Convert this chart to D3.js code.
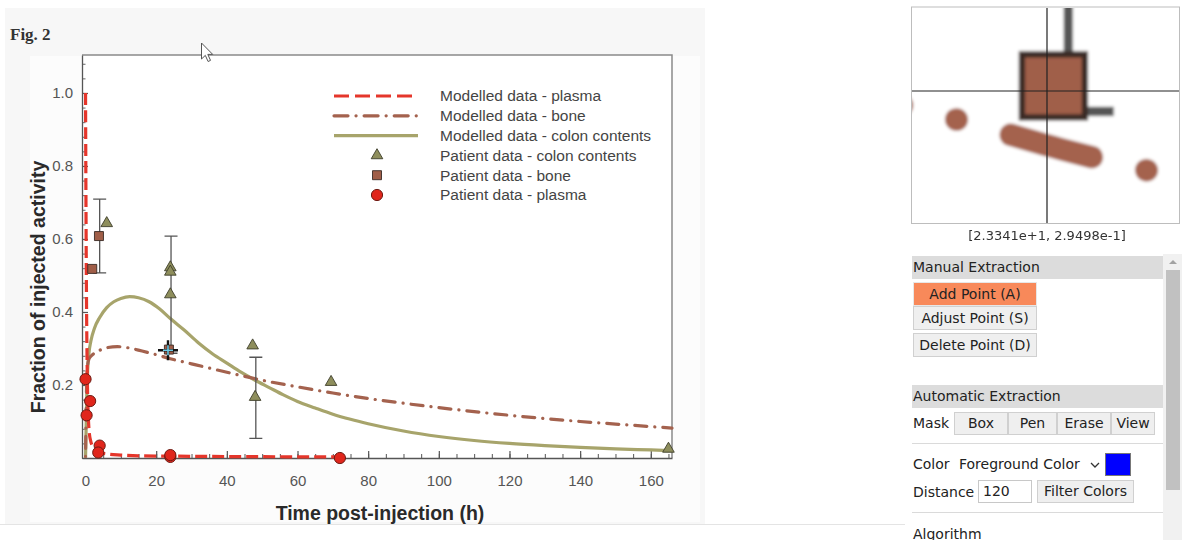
<!DOCTYPE html>
<html>
<head>
<meta charset="utf-8">
<script src="https://cdn.jsdelivr.net/npm/d3@7"></script>
<style>
  body { margin: 0; width: 1182px; height: 540px; overflow: hidden; position: relative; background: #fff; font-family: "DejaVu Sans", Verdana, sans-serif; }
  #chart { position: absolute; left: 0; top: 0; }
  .p { position: absolute; font-size: 14px; color: #222; white-space: nowrap; }
  .hdr { position: absolute; left: 912px; width: 250px; height: 23px; line-height: 23px; background: #dcdcdc; padding-left: 1px; font-size: 14px; color: #222; }
  .btn { position: absolute; box-sizing: border-box; background: #efefef; border: 1px solid #d0d0d0; text-align: center; font-size: 14px; color: #222; }
  .sep { position: absolute; left: 912px; width: 251px; height: 1px; background: #dadada; }
</style>
</head>
<body>
<svg id="chart" width="1182" height="540"></svg>

<div class="hdr" style="top:256px">Manual Extraction</div>
<div class="btn" style="left:913px;top:282px;width:124px;height:24px;line-height:22px;background:#f8895a;border-color:#e7e7e7">Add Point (A)</div>
<div class="btn" style="left:913px;top:306px;width:124px;height:24px;line-height:22px">Adjust Point (S)</div>
<div class="btn" style="left:913px;top:333px;width:124px;height:24px;line-height:22px">Delete Point (D)</div>
<div class="hdr" style="top:385px">Automatic Extraction</div>
<div class="p" style="left:913px;top:415px">Mask</div>
<div class="btn" style="left:954px;top:412px;width:54px;height:23px;line-height:21px">Box</div>
<div class="btn" style="left:1008px;top:412px;width:49px;height:23px;line-height:21px">Pen</div>
<div class="btn" style="left:1057px;top:412px;width:54px;height:23px;line-height:21px">Erase</div>
<div class="btn" style="left:1111px;top:412px;width:44px;height:23px;line-height:21px">View</div>
<div class="sep" style="top:443px"></div>
<div class="p" style="left:913px;top:456px">Color</div>
<div class="p" style="left:959px;top:456px">Foreground Color</div>
<svg style="position:absolute;left:1090px;top:461px" width="10" height="8"><path d="M1,2 L5,6 L9,2" fill="none" stroke="#333" stroke-width="1.3"/></svg>
<div style="position:absolute;left:1105px;top:453px;width:26px;height:23px;background:#0000ff;box-sizing:border-box;border:1px solid #777"></div>
<div class="p" style="left:913px;top:484px">Distance</div>
<div class="btn" style="left:978px;top:480px;width:54px;height:23px;line-height:21px;background:#fff;border-color:#c8c8c8;text-align:left;padding-left:4px">120</div>
<div class="btn" style="left:1037px;top:480px;width:97px;height:23px;line-height:21px">Filter Colors</div>
<div class="sep" style="top:512px"></div>
<div class="p" style="left:913px;top:526px">Algorithm</div>
<div style="position:absolute;left:1163px;top:254px;width:19px;height:286px;background:#f1f1f1"></div>
<div style="position:absolute;left:1166px;top:270px;width:14px;height:220px;background:#c1c1c1"></div>
<svg style="position:absolute;left:1167px;top:258px" width="12" height="8"><path d="M2,6 L6,2 L10,6 Z" fill="#a3a3a3"/></svg>

<script>
// time (h)
const plasmaModelT = [0, 0.1, 0.2, 0.3, 0.45, 0.6, 0.8, 1, 1.5, 2, 3, 4, 6, 10, 15, 25, 40, 72];
const plasmaModelV = [1.0, 0.75, 0.55, 0.4, 0.26, 0.17, 0.11, 0.075, 0.045, 0.032, 0.022, 0.016, 0.011, 0.008, 0.006, 0.005, 0.004, 0.003];

const boneModelT = [0, 0.3, 0.6, 1, 2, 4, 6, 9, 12, 16, 20, 24, 30, 40, 50, 60, 70, 80, 90, 100, 110, 120, 130, 140, 150, 160, 166];
const boneModelV = [0, 0.2, 0.255, 0.272, 0.283, 0.295, 0.302, 0.305, 0.302, 0.293, 0.283, 0.272, 0.258, 0.235, 0.213, 0.195, 0.178, 0.163, 0.15, 0.138, 0.127, 0.117, 0.108, 0.1, 0.093, 0.086, 0.082];

const colonModelT = [0, 0.3, 0.6, 1, 1.5, 2.5, 4, 6, 8, 10, 12.5, 15, 18, 21, 24, 28, 32, 36, 40, 44, 48, 52, 56, 60, 65, 70, 75, 80, 90, 100, 110, 120, 130, 140, 150, 160, 166];
const colonModelV = [0, 0.15, 0.24, 0.29, 0.32, 0.355, 0.385, 0.412, 0.428, 0.437, 0.442, 0.439, 0.428, 0.408, 0.382, 0.35, 0.315, 0.285, 0.26, 0.235, 0.213, 0.193, 0.173, 0.155, 0.137, 0.12, 0.106, 0.094, 0.074, 0.059, 0.048, 0.04, 0.034, 0.029, 0.025, 0.022, 0.02];

const colonPtsT = [6, 24, 24, 24, 47.3, 48, 69.5, 165];
const colonPtsV = [0.643, 0.522, 0.51, 0.448, 0.308, 0.167, 0.208, 0.025];
const bonePtsT = [1.9, 3.8, 23.6];
const bonePtsV = [0.518, 0.608, 0.297];
const plasmaPtsT = [0, 0.3, 1.3, 4, 3.6, 24, 24, 72];
const plasmaPtsV = [0.216, 0.117, 0.156, 0.034, 0.015, 0.003, 0.008, 0.0];

// error bars: time, low, high
const errT = [4, 24.2, 48.2];
const errLo = [0.507, 0.287, 0.054];
const errHi = [0.709, 0.608, 0.276];

const xTicks = [0, 20, 40, 60, 80, 100, 120, 140, 160];
const yTicks = [0.2, 0.4, 0.6, 0.8, 1.0];

const legendLabels = ["Modelled data - plasma", "Modelled data - bone", "Modelled data - colon contents",
  "Patient data - colon contents", "Patient data - bone", "Patient data - plasma"];

const cursorT = 23.341, cursorV = 0.29498;

const RED = "#e5362b", BONE = "#a4624e", COLON = "#a7a46b";
const TRI = "#8e8e5c", SQ = "#a05e48", DOT = "#e0261c";

const svg = d3.select("#chart");
const defs = svg.append("defs");
const blur = defs.append("filter").attr("id", "blur")
  .attr("filterUnits", "userSpaceOnUse").attr("x", 0).attr("y", 0).attr("width", 268).attr("height", 216);
blur.append("feGaussianBlur").attr("stdDeviation", 1.8);

// page background of the figure
svg.append("rect").attr("x", 5).attr("y", 8).attr("width", 700).attr("height", 516).attr("fill", "#f7f7f7");
svg.append("rect").attr("x", 30).attr("y", 56).attr("width", 670).attr("height", 466).attr("fill", "#fcfcfc");
svg.append("line").attr("x1", 0).attr("x2", 905).attr("y1", 524.5).attr("y2", 524.5).attr("stroke", "#e4e4e4");

svg.append("text").attr("x", 10).attr("y", 40)
  .style("font-family", "'Liberation Serif', 'DejaVu Serif', serif").style("font-weight", "bold")
  .style("font-size", "17px").attr("fill", "#333").text("Fig. 2");

const x = d3.scaleLinear().domain([-1, 166]).range([82, 672]);
const y = d3.scaleLinear().domain([0, 1.104]).range([458, 55]);

const art = defs.append("g").attr("id", "plotArt");
art.append("rect").attr("x", 82).attr("y", 55).attr("width", 590).attr("height", 403).attr("fill", "#fff");

// frame
art.append("path").attr("d", `M${x.range()[0]},${y.range()[1]}H${x.range()[1]}V${y.range()[0]}`)
  .attr("fill", "none").attr("stroke", "#8a8a8a").attr("stroke-width", 1.5);

const axisFont = "'Liberation Sans', Arial, sans-serif";

// minor ticks
art.append("g").attr("transform", `translate(${x.range()[0]},0)`)
  .call(d3.axisLeft(y).tickValues(d3.range(0, 1.1, 0.04)).tickSizeInner(-3.5).tickSizeOuter(0).tickFormat(""))
  .call(g => g.select(".domain").remove())
  .call(g => g.selectAll("line").attr("stroke", "#666"));
art.append("g").attr("transform", `translate(0,${y.range()[0]})`)
  .call(d3.axisBottom(x).tickValues(d3.range(0, 166, 5)).tickSizeInner(-4).tickSizeOuter(0).tickFormat(""))
  .call(g => g.select(".domain").remove())
  .call(g => g.selectAll("line").attr("stroke", "#555"));

// major ticks + labels
const yAxis = art.append("g").attr("transform", `translate(${x.range()[0]},0)`)
  .call(d3.axisLeft(y).tickValues(yTicks).tickSizeInner(-6).tickSizeOuter(0).tickPadding(9).tickFormat(d3.format(".1f")));
const xAxis = art.append("g").attr("transform", `translate(0,${y.range()[0]})`)
  .call(d3.axisBottom(x).tickValues(xTicks).tickSizeInner(-7).tickSizeOuter(0).tickPadding(17));
[yAxis, xAxis].forEach(a => {
  a.select(".domain").attr("stroke", "#555").attr("stroke-width", 1.3);
  a.selectAll(".tick line").attr("stroke", "#555").attr("stroke-width", 1.2);
  a.selectAll(".tick text").attr("fill", "#555").style("font-family", axisFont).style("font-size", "15px");
});

// axis titles
svg.append("text").attr("x", 380).attr("y", 520).attr("text-anchor", "middle")
  .style("font-family", axisFont).style("font-weight", "bold").style("font-size", "19.5px").attr("fill", "#2a2a2a")
  .text("Time post-injection (h)");
svg.append("text").attr("transform", "translate(45,287) rotate(-90)").attr("text-anchor", "middle")
  .style("font-family", axisFont).style("font-weight", "bold").style("font-size", "19.5px").attr("fill", "#2a2a2a")
  .text("Fraction of injected activity");

// model curves
const line = d3.line().x(d => x(d[0])).y(d => y(d[1])).curve(d3.curveMonotoneX);
art.append("path").datum(d3.zip(colonModelT, colonModelV)).attr("d", line)
  .attr("fill", "none").attr("stroke", COLON).attr("stroke-width", 3.2);
const bonePath = art.append("path").datum(d3.zip(boneModelT, boneModelV)).attr("d", line)
  .attr("fill", "none").attr("stroke", BONE).attr("stroke-width", 3.2)
  .attr("stroke-linecap", "round").attr("stroke-dasharray", "12,8,0.1,8");
art.append("path").datum(d3.zip(plasmaModelT, plasmaModelV)).attr("d", line)
  .attr("fill", "none").attr("stroke", RED).attr("stroke-width", 3.2).attr("stroke-dasharray", "12,5");

// error bars
const eb = art.append("g").attr("stroke", "#555").attr("stroke-width", 1.3).attr("fill", "none");
errT.forEach((t, i) => {
  const cx = x(t), y1 = y(errLo[i]), y2 = y(errHi[i]);
  eb.append("path").attr("d", `M${cx},${y1}V${y2}M${cx - 6.5},${y1}h13M${cx - 6.5},${y2}h13`);
});

// markers
const tri = d3.symbol(d3.symbolTriangle, 58)();
const sq = d3.symbol(d3.symbolSquare, 81)();
art.append("g").selectAll("path").data(d3.zip(colonPtsT, colonPtsV)).join("path")
  .attr("d", tri).attr("transform", d => `translate(${x(d[0])},${y(d[1])})`)
  .attr("fill", TRI).attr("stroke", "#3d3d2a").attr("stroke-width", 0.9);
art.append("g").selectAll("path").data(d3.zip(bonePtsT, bonePtsV)).join("path")
  .attr("d", sq).attr("transform", d => `translate(${x(d[0])},${y(d[1])})`)
  .attr("fill", SQ).attr("stroke", "#3a2a25").attr("stroke-width", 0.9);
art.append("g").selectAll("circle").data(d3.zip(plasmaPtsT, plasmaPtsV)).join("circle")
  .attr("cx", d => x(d[0])).attr("cy", d => y(d[1])).attr("r", 5.6)
  .attr("fill", DOT).attr("stroke", "#6e1a12").attr("stroke-width", 1);

// legend
const lg = art.append("g").attr("transform", "translate(333,96)");
const rows = lg.selectAll("g").data(legendLabels).join("g").attr("transform", (d, i) => `translate(0,${i * 19.8})`);
rows.append("text").attr("x", 107).attr("dy", "0.35em")
  .style("font-family", axisFont).style("font-size", "15.5px").attr("fill", "#444").text(d => d);
const lgLine = (i, color, dash) => lg.append("line").attr("x1", 1).attr("x2", 85).attr("y1", i * 19.8).attr("y2", i * 19.8)
  .attr("stroke", color).attr("stroke-width", 3.2).attr("stroke-dasharray", dash);
lgLine(0, RED, "15,6");
lgLine(1, BONE, "14,8,0.1,8").attr("stroke-linecap", "round");
lgLine(2, COLON, null);
lg.append("path").attr("d", tri).attr("transform", `translate(44,${3 * 19.8})`).attr("fill", TRI).attr("stroke", "#3d3d2a").attr("stroke-width", 0.9);
lg.append("path").attr("d", sq).attr("transform", `translate(44,${4 * 19.8})`).attr("fill", SQ).attr("stroke", "#3a2a25").attr("stroke-width", 0.9);
lg.append("circle").attr("cx", 44).attr("cy", 5 * 19.8).attr("r", 5.6).attr("fill", DOT).attr("stroke", "#6e1a12");

svg.append("use").attr("href", "#plotArt");

// crosshair cursor on the chart
const px = x(cursorT), py = y(cursorV);

// put a bone dash right under the cursor, as in the magnifier
{
  const node = bonePath.node();
  let lo = 0, hi = node.getTotalLength();
  for (let k = 0; k < 40; k++) {
    const mid = (lo + hi) / 2;
    if (node.getPointAtLength(mid).x < px) lo = mid; else hi = mid;
  }
  const P = 28.1, a = lo + 0.6 - 6;
  bonePath.attr("stroke-dashoffset", ((-a % P) + P) % P);
}

const ch = svg.append("g").attr("transform", `translate(${px},${py})`);
ch.append("path").attr("d", "M-10,0H10M0,-10V10").attr("stroke", "#111").attr("stroke-width", 2.4);
ch.append("path").attr("d", "M-5,0H5M0,-5V5").attr("stroke", "#6fcbe6").attr("stroke-width", 1.6);

// mouse pointer
svg.append("path").attr("transform", "translate(201.5,43)")
  .attr("d", "M0,0 L0,16 L3.8,12.4 L6.6,18.5 L9,17.4 L6.3,11.4 L11.2,11.4 Z")
  .attr("fill", "#fff").attr("stroke", "#555").attr("stroke-width", 1);

// magnifier
const magX = 911, magY = 8, magW = 268, magH = 216;
const cx = 136, cy = 83, s = 7;
const mag = svg.append("svg").attr("x", magX).attr("y", magY).attr("width", magW).attr("height", magH);
mag.append("rect").attr("width", magW).attr("height", magH).attr("fill", "#fff");
mag.append("g").attr("filter", "url(#blur)")
  .append("g").attr("transform", `translate(${cx},${cy}) scale(${s}) translate(${-px},${-py})`)
  .append("use").attr("href", "#plotArt");
mag.append("path").attr("d", `M${cx},0V${magH}M0,${cy}H${magW}`).attr("stroke", "#222").attr("stroke-width", 1.2);
svg.append("rect").attr("x", magX + 0.5).attr("y", magY - 1).attr("width", magW).attr("height", magH + 0.5)
  .attr("fill", "none").attr("stroke", "#bdbdbd");

const fmt = d3.format(".4e");
svg.append("text").attr("x", magX + cx).attr("y", 240).attr("text-anchor", "middle")
  .style("font-family", "'DejaVu Sans', Verdana, sans-serif").style("font-size", "13px").attr("fill", "#333")
  .text(`[${fmt(cursorT)}, ${fmt(cursorV)}]`);
</script>
</body>
</html>
